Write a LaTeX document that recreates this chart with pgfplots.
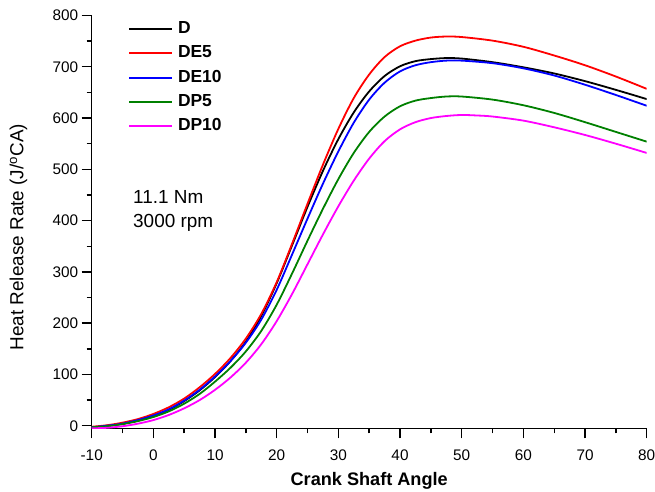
\documentclass[border=0pt]{standalone}
\usepackage{pgfplots}
\pgfplotsset{compat=1.18}
\usepackage{fontspec}
\setmainfont{Liberation Sans}
\definecolor{cgreen}{RGB}{0,128,0}
\definecolor{cmag}{RGB}{255,0,255}
\definecolor{cred}{RGB}{255,0,0}
\definecolor{cblue}{RGB}{0,0,255}
\begin{document}
\begin{tikzpicture}
\useasboundingbox (-91.7bp,-63.7bp) rectangle (563.3bp,428.3bp);
\begin{axis}[
  at={(0,0)}, anchor=south west,
  scale only axis, width=555bp, height=412.8bp,
  xmin=-10, xmax=80, ymin=-5, ymax=800,
  axis lines=left, axis line style={-, line width=1.4bp},
  xtick={-10,0,...,80}, ytick={0,100,...,800},
  minor x tick num=1, minor y tick num=1,
  tick align=outside,
  major tick length=10bp, minor tick length=5bp,
  every tick/.style={line width=1.4bp, black},
  tick label style={font=\fontsize{15.4}{18}\selectfont},
  xticklabel style={yshift=-8bp},
  /pgf/number format/assume math mode=true,
  xlabel={\bfseries Crank Shaft Angle},
  ylabel={Heat Release Rate (J/\textsuperscript{o}CA)},
  xlabel style={font=\fontsize{18.2}{22}\selectfont, at={(axis description cs:0.5,-0.128)}, anchor=center},
  ylabel style={font=\fontsize{19}{22}\selectfont, at={(axis description cs:-0.132,0.463)}, anchor=center},
  legend style={draw=none, fill=none, inner sep=0pt, at={(axis cs:-4.11,788.5)}, anchor=north west,
    row sep=9.25bp, nodes={inner sep=0pt, text height=12bp, text depth=3bp, anchor=west},
    font=\fontsize{17.5}{20}\selectfont\bfseries,
    /tikz/every odd column/.append style={column sep=5bp}},
  legend cell align=left,
  legend image code/.code={\draw[#1] (0bp,0bp) -- (43bp,0bp);},
  every axis plot/.append style={line width=1.8bp, smooth, no marks},
]
\addplot[black] coordinates {(-10,-3)(-7.5,0)(-5,4)(-2.5,10)(0,19)(2.5,31)(5,48)(7.5,69)(10,95)(12.5,126)(15,164)(17.5,214)(20,278)(22.5,352)(25,427)(27.5,497)(30,559)(32.5,611)(35,652)(37.5,682)(40,701)(42.5,711)(45,715)(47.5,717)(50,716)(55,709)(60,699)(65,687)(70,672)(75,655)(80,637)};
\addlegendentry{D}
\addplot[cred] coordinates {(-10,-2)(-7.5,1)(-5,6)(-2.5,13)(0,23)(2.5,36)(5,53)(7.5,75)(10,101)(12.5,132)(15,170)(17.5,218)(20,280)(22.5,355)(25,433)(27.5,509)(30,579)(32.5,639)(35,685)(37.5,719)(40,740)(42.5,751)(45,757)(47.5,759)(50,758)(55,751)(60,739)(65,722)(70,703)(75,681)(80,657)};
\addlegendentry{DE5}
\addplot[cblue] coordinates {(-10,-3)(-7.5,0)(-5,4)(-2.5,11)(0,20)(2.5,32)(5,49)(7.5,70)(10,96)(12.5,126)(15,162)(17.5,207)(20,265)(22.5,334)(25,404)(27.5,472)(30,535)(32.5,591)(35,636)(37.5,669)(40,691)(42.5,703)(45,709)(47.5,712)(50,712)(55,707)(60,697)(65,683)(70,665)(75,645)(80,624)};
\addlegendentry{DE10}
\addplot[cgreen] coordinates {(-10,-3)(-7.5,-1)(-5,3)(-2.5,9)(0,17)(2.5,28)(5,43)(7.5,62)(10,86)(12.5,113)(15,145)(17.5,185)(20,236)(22.5,297)(25,361)(27.5,423)(30,481)(32.5,532)(35,573)(37.5,603)(40,623)(42.5,634)(45,639)(47.5,642)(50,642)(55,636)(60,625)(65,610)(70,592)(75,573)(80,554)};
\addlegendentry{DP5}
\addplot[cmag] coordinates {(-10,-5)(-7.5,-4)(-5,-1)(-2.5,4)(0,11)(2.5,21)(5,34)(7.5,50)(10,70)(12.5,94)(15,123)(17.5,159)(20,204)(22.5,257)(25,315)(27.5,373)(30,428)(32.5,478)(35,521)(37.5,555)(40,578)(42.5,592)(45,600)(47.5,604)(50,606)(52.5,605)(55,603)(60,595)(65,582)(70,567)(75,550)(80,532)};
\addlegendentry{DP10}
\node[anchor=west, align=left, inner sep=0pt, font=\fontsize{19}{24}\selectfont] at (axis cs:-3.3,418) {11.1 Nm\\3000 rpm};
\end{axis}
\end{tikzpicture}
\end{document}
